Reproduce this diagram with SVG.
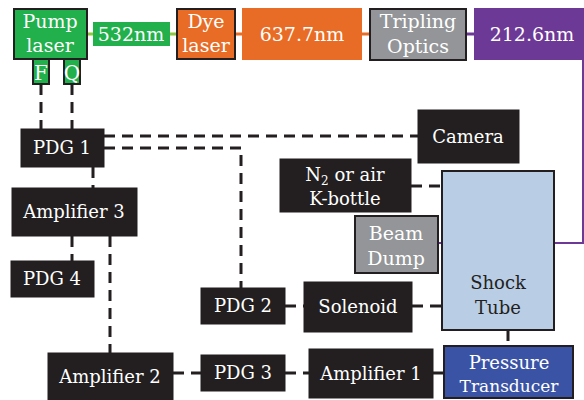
<svg xmlns="http://www.w3.org/2000/svg" width="584" height="400" viewBox="0 0 584 400">
<style>
text{font-family:"DejaVu Serif","Liberation Serif",serif;text-anchor:middle}
.w{fill:#ffffff;font-size:19px}
.b{fill:#ffffff;font-size:18px}
.s{fill:#ffffff;font-size:20px}
.k{fill:#231f20;font-size:18px}
.blk{fill:#231f20;stroke:#231f20;stroke-width:1}
.d{fill:none;stroke:#231f20;stroke-width:3;stroke-dasharray:11 7}
.sl{fill:none;stroke:#231f20;stroke-width:3}
</style>
<rect width="584" height="400" fill="#ffffff"/>
<g id="connectors">
<line x1="87" y1="34" x2="176" y2="34" stroke="#8dc63f" stroke-width="3"/>
<line x1="235" y1="34" x2="370" y2="34" stroke="#e86c25" stroke-width="3"/>
<line x1="466" y1="34" x2="474" y2="34" stroke="#6d3996" stroke-width="3"/>
<polyline points="583,60 583,243 438,243" fill="none" stroke="#6d3996" stroke-width="2"/>
<line class="d" x1="41" y1="84" x2="41" y2="129"/>
<line class="d" x1="72" y1="84" x2="72" y2="129"/>
<line class="d" x1="104" y1="136" x2="418" y2="136"/>
<polyline class="d" points="104,148 241,148 241,288"/>
<line class="d" x1="93" y1="167" x2="93" y2="188"/>
<line class="d" x1="72" y1="236" x2="72" y2="261"/>
<line class="d" x1="110" y1="236" x2="110" y2="353"/>
<line class="d" x1="411" y1="186" x2="442" y2="186"/>
<line class="d" x1="285" y1="306" x2="304" y2="306"/>
<line class="d" x1="412" y1="306" x2="442" y2="306"/>
<line class="d" x1="508" y1="330" x2="508" y2="346"/>
<line class="d" x1="173" y1="373" x2="201" y2="373"/>
<line class="d" x1="285" y1="373" x2="309" y2="373"/>
<line class="sl" x1="433" y1="373" x2="444" y2="373"/>
</g>
<g id="pump-laser">
<rect x="14" y="9" width="73" height="50" fill="#21b04b" stroke="#231f20" stroke-width="2"/>
<text class="w" x="50" y="28">Pump</text>
<text class="w" x="50" y="52">laser</text>
</g>
<g id="pump-f">
<rect x="33" y="59" width="16" height="25" fill="#21b04b" stroke="#231f20" stroke-width="2"/>
<text class="s" x="41" y="80">F</text>
</g>
<g id="pump-q">
<rect x="64" y="59" width="16" height="25" fill="#21b04b" stroke="#231f20" stroke-width="2"/>
<text class="s" x="72" y="80">Q</text>
</g>
<g id="n532">
<rect x="93" y="22" width="77" height="24" fill="#21b04b"/>
<text class="w" x="131" y="41">532nm</text>
</g>
<g id="dye-laser">
<rect x="177" y="9" width="58" height="50" fill="#e86c25" stroke="#231f20" stroke-width="2"/>
<text class="w" x="206" y="28">Dye</text>
<text class="w" x="206" y="52">laser</text>
</g>
<g id="n637">
<rect x="242" y="8" width="120" height="52" fill="#e86c25"/>
<text class="w" x="302" y="41">637.7nm</text>
</g>
<g id="tripling">
<rect x="370" y="9" width="96" height="51" fill="#939598" stroke="#231f20" stroke-width="2"/>
<text class="w" x="418" y="28" fill="#f2f2f2">Tripling</text>
<text class="w" x="418" y="53" fill="#f2f2f2">Optics</text>
</g>
<g id="n212">
<rect x="474" y="8" width="112" height="52" fill="#6d3996"/>
<text class="w" x="532" y="41">212.6nm</text>
</g>
<g id="camera">
<rect class="blk" x="418" y="110" width="101" height="53"/>
<text class="b" x="468" y="143">Camera</text>
</g>
<g id="k-bottle">
<rect class="blk" x="280" y="159" width="131" height="53"/>
<text class="b" x="345" y="181">N<tspan dy="4" style="font-size:12px">2</tspan><tspan dy="-4"> or air</tspan></text>
<text class="b" x="345" y="205">K-bottle</text>
</g>
<g id="beam-dump">
<rect x="355" y="216" width="83" height="57" fill="#939598" stroke="#231f20" stroke-width="2"/>
<text class="w" x="396" y="240" fill="#f2f2f2">Beam</text>
<text class="w" x="396" y="265" fill="#f2f2f2">Dump</text>
</g>
<g id="shock-tube">
<rect x="442" y="171" width="112" height="159" fill="#b9cde5" stroke="#231f20" stroke-width="2"/>
<text class="k" x="498" y="289">Shock</text>
<text class="k" x="498" y="314">Tube</text>
</g>
<g id="pdg1">
<rect class="blk" x="21" y="129" width="83" height="38"/>
<text class="b" x="62" y="154">PDG 1</text>
</g>
<g id="amplifier3">
<rect class="blk" x="12" y="188" width="125" height="48"/>
<text class="b" x="74" y="218">Amplifier 3</text>
</g>
<g id="pdg4">
<rect class="blk" x="11" y="261" width="83" height="36"/>
<text class="b" x="52" y="285">PDG 4</text>
</g>
<g id="pdg2">
<rect class="blk" x="201" y="288" width="84" height="36"/>
<text class="b" x="243" y="312">PDG 2</text>
</g>
<g id="solenoid">
<rect class="blk" x="304" y="282" width="108" height="50"/>
<text class="b" x="358" y="313">Solenoid</text>
</g>
<g id="amplifier2">
<rect class="blk" x="48" y="353" width="125" height="48"/>
<text class="b" x="110" y="383">Amplifier 2</text>
</g>
<g id="pdg3">
<rect class="blk" x="201" y="355" width="84" height="36"/>
<text class="b" x="243" y="379">PDG 3</text>
</g>
<g id="amplifier1">
<rect class="blk" x="309" y="349" width="124" height="49"/>
<text class="b" x="371" y="380">Amplifier 1</text>
</g>
<g id="pressure-transducer">
<rect x="444" y="346" width="129" height="52" fill="#3a53a4" stroke="#231f20" stroke-width="2"/>
<text class="b" x="509" y="369">Pressure</text>
<text class="b" x="509" y="392" style="font-size:17px">Transducer</text>
</g>
</svg>
